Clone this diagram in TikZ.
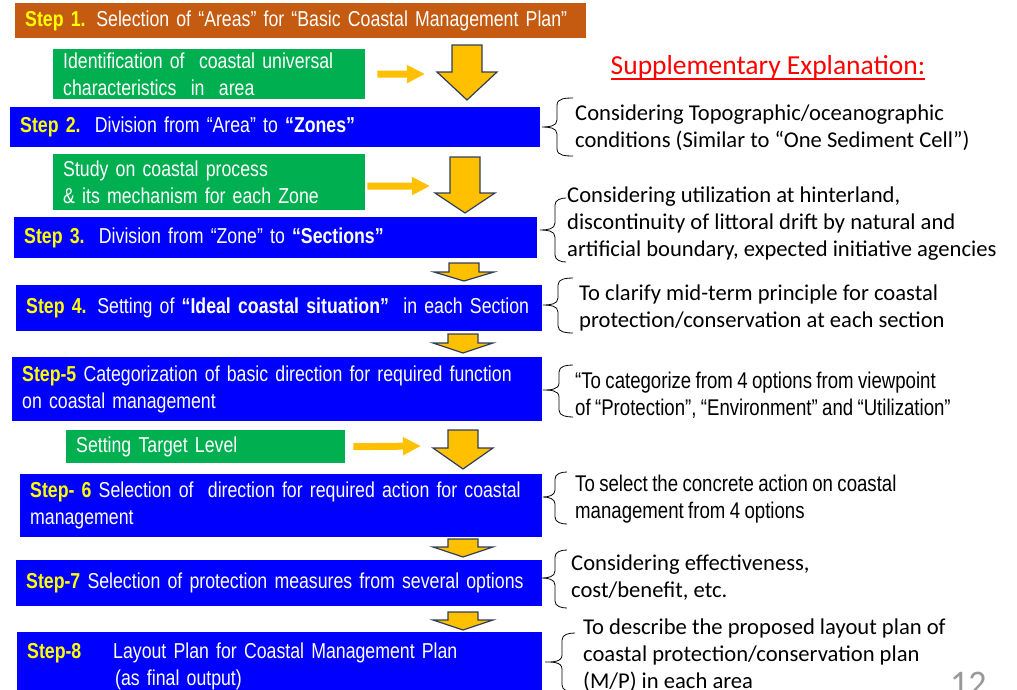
\documentclass[tikz,border=0pt]{standalone}
\usepackage{fontspec}
\setmainfont{Carlito}
\newfontfamily\narrowfont[FakeStretch=0.82, WordSpace=0.85]{Liberation Sans}
\usetikzlibrary{arrows.meta}

\definecolor{stepblue}{HTML}{0000FF}
\definecolor{steporange}{HTML}{C55A11}
\definecolor{stepgreen}{HTML}{00B050}
\definecolor{arrowgold}{HTML}{FFC000}
\definecolor{arrowedge}{HTML}{2F3D5C}
\definecolor{labelyellow}{HTML}{FFFF00}
\definecolor{titlered}{HTML}{FF0000}

\newcommand\stp[1]{\textcolor{labelyellow}{\bfseries #1}}
% block arrow: centre x, top y, head y, tip y
\newcommand\blockarrow[4]{\draw[goldarrow] (#1-15,#2) -- (#1+15,#2) -- (#1+15,#3) -- (#1+30,#3) -- (#1,#4) -- (#1-30,#3) -- (#1-15,#3) -- cycle;}
% left brace: tip x, bar x, end x, top y, tip y, bottom y
\newcommand\sidebrace[6]{\draw[bracepen] (#3,#4) to[out=180,in=90] (#2,#4+7) -- (#2,#5-7) to[out=-90,in=0] (#1,#5) to[out=0,in=90] (#2,#5+7) -- (#2,#6-7) to[out=-90,in=180] (#3,#6);}

\tikzset{
    stepbox/.style={fill=stepblue, text=white, anchor=north west, inner xsep=10pt, inner ysep=0pt,
        align=left, font=\narrowfont\fontsize{21.6}{27}\selectfont},
    firstbox/.style={stepbox, fill=steporange},
    studybox/.style={stepbox, fill=stepgreen},
    goldarrow/.style={fill=arrowgold, draw=arrowedge, line width=1.2pt, line join=miter},
    feedarrow/.style={draw=arrowgold, line width=7pt, -{Triangle[length=18pt,width=17pt]}},
    bracepen/.style={draw=black, line width=0.8pt},
    note/.style={anchor=west, align=left, inner sep=0pt, font=\fontsize{22.6}{27}\selectfont},
    narrownote/.style={note, font=\narrowfont\fontsize{22.7}{27}\selectfont},
}

\begin{document}
\begin{tikzpicture}[x=1pt, y=-1pt]
    \useasboundingbox (0,0) rectangle (1017,689);
    \clip (0,0) rectangle (1017,689);

    % steps
    \node[firstbox, minimum height=35pt, text width=551pt] (step1) at (15,3)
        {\mbox{\stp{Step 1.} Selection of “Areas” for “Basic Coastal Management Plan”}};
    \node[studybox, minimum height=50pt, text width=292pt] (green1) at (53,49)
        {Identification of\ \ coastal universal\\characteristics\ \ in\ \ area};
    \node[stepbox, minimum height=40pt, text width=510pt] (step2) at (10,107)
        {\stp{Step 2.}\ \ Division from “Area” to \textbf{“Zones”}};
    \node[studybox, minimum height=56pt, text width=292pt] (green2) at (53,154)
        {Study on coastal process\\\& its mechanism for each Zone};
    \node[stepbox, minimum height=41pt, text width=503pt] (step3) at (14,217)
        {\stp{Step 3.}\ \ Division from “Zone” to \textbf{“Sections”}};
    \node[stepbox, minimum height=46pt, text width=506pt] (step4) at (16,285)
        {\mbox{\stp{Step 4.} Setting of \textbf{“Ideal coastal situation”}\ \ in each Section}};
    \node[stepbox, minimum height=64pt, text width=510pt] (step5) at (12,357)
        {\mbox{\stp{Step-5} Categorization of basic direction for required function}\\on coastal management};
    \node[studybox, minimum height=33pt, text width=259pt] (green3) at (66,430)
        {Setting Target Level};
    \node[stepbox, minimum height=63pt, text width=502pt] (step6) at (20,474)
        {\mbox{\stp{Step- 6} Selection of\ \ direction for required action for coastal}\\management};
    \node[stepbox, minimum height=46pt, text width=506pt] (step7) at (16,560)
        {\mbox{\stp{Step-7} Selection of protection measures from several options}};
    \node[stepbox, minimum height=68pt, text width=505pt] (step8) at (17,632)
        {\makebox[86pt][l]{\stp{Step-8}}Layout Plan for Coastal Management Plan\\\hspace*{88pt}(as final output)};

    % arrows
    \blockarrow{467}{45}{72}{100}
    \blockarrow{465}{157}{193}{213}
    \blockarrow{464}{263}{272}{281}
    \blockarrow{463}{334}{343}{353}
    \blockarrow{463}{430}{448}{469}
    \blockarrow{463}{539}{547}{557}
    \blockarrow{463}{612}{620}{630}

    \coordinate (feed1) at (425,74);
    \coordinate (feed2) at (430,186);
    \coordinate (feed3) at (421,446);
    \draw[feedarrow] ([xshift=12pt]green1.east) -- (feed1);
    \draw[feedarrow] ([xshift=2pt,yshift=-4pt]green2.east) -- (feed2);
    \draw[feedarrow] ([xshift=8pt]green3.east) -- (feed3);

    % supplementary explanation
    \node[text=titlered, inner sep=0pt, font=\fontsize{27.5}{30}\selectfont] (suptitle) at (768,67)
        {Supplementary Explanation:};
    \draw[titlered, line width=1.8pt] ([yshift=-5pt]suptitle.base west) -- ([yshift=-5pt]suptitle.base east);

    \sidebrace{542}{557}{573}{98}{127}{156}
    \sidebrace{540}{555}{566}{198}{230}{262}
    \sidebrace{543}{558}{573}{278}{305}{333}
    \sidebrace{543}{559}{573}{365}{390}{417}
    \sidebrace{543}{555}{567}{472}{497}{524}
    \sidebrace{542}{555}{567}{550}{578}{608}
    \sidebrace{545}{562}{575}{633}{662}{692}

    \node[note] (note2) at (575,128)
        {Considering Topographic/oceanographic\\conditions (Similar to “One Sediment Cell”)};
    \node[note] (note3) at (567,224)
        {Considering utilization at hinterland,\\discontinuity of littoral drift by natural and\\artificial boundary, expected initiative agencies};
    \node[note] (note4) at (579,308)
        {To clarify mid-term principle for coastal\\protection/conservation at each section};
    \node[narrownote] (note5) at (575,395)
        {“To categorize from 4 options from viewpoint\\of “Protection”, “Environment” and “Utilization”};
    \node[narrownote] (note6) at (575,499)
        {To select the concrete action on coastal\\management from 4 options};
    \node[note] (note7) at (571,578)
        {Considering effectiveness,\\cost/benefit, etc.};
    \node[note] (note8) at (583,655)
        {To describe the proposed layout plan of\\coastal protection/conservation plan\\(M/P) in each area};

    \node[anchor=base west, inner sep=0pt, text=black!40, font=\fontsize{36}{40}\selectfont] (pageno) at (950,695) {12};
\end{tikzpicture}
\end{document}
